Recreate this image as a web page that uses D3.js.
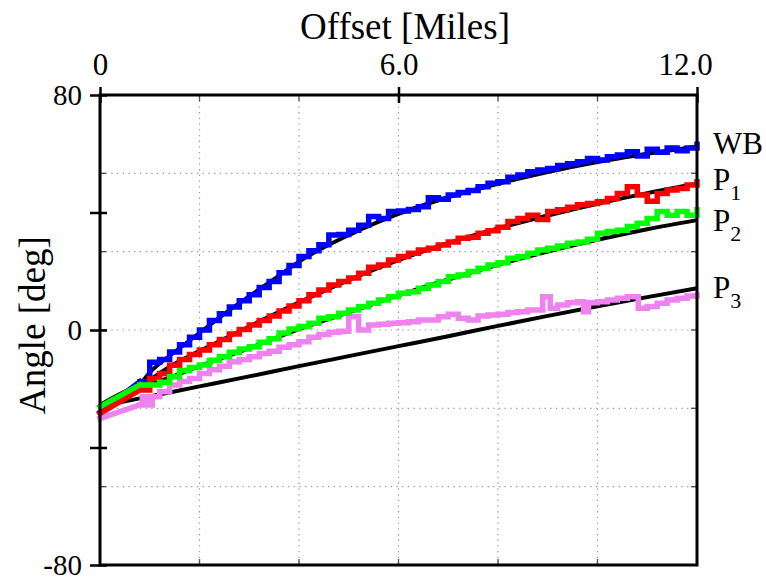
<!DOCTYPE html>
<html>
<head>
<meta charset="utf-8">
<script src="https://cdn.jsdelivr.net/npm/d3@7"></script>
<style>
  html, body { margin: 0; padding: 0; background: #fff; }
  svg { display: block; }
  text { font-family: "Liberation Serif", "Times New Roman", serif; fill: #000; }
</style>
</head>
<body>
<svg id="chart" width="766" height="581"></svg>
<script>
// Measured angle versus offset, with smooth fitted curves (black)
const seriesNames = ["WB", "P1", "P2", "P3"];
const seriesColors = ["#0000ff", "#ff0000", "#00ff00", "#ee82ee"];

const wbData = [[0,-28],[0.8,-17.6],[1.0,-11],[1.2,-10],[1.4,-7.5],[1.6,-5],[1.8,-2.5],[2.0,0],[2.2,3.2],[2.4,5.5],[2.6,7.8],[2.8,10],[3.0,12],[3.2,14.5],[3.4,16.5],[3.6,19.5],[3.8,22],[4.0,25],[4.2,27],[4.4,29],[4.6,32.3],[4.8,32.5],[5.0,34],[5.2,35.7],[5.4,38.6],[5.6,38],[5.8,40.3],[6.0,40.5],[6.2,41],[6.4,42],[6.6,45],[6.8,44.5],[7.0,46],[7.2,46.8],[7.4,47.5],[7.6,48.8],[7.8,50],[8.0,50.5],[8.2,52],[8.4,52.8],[8.6,53.9],[8.8,54.5],[9.0,55],[9.2,56],[9.4,56.6],[9.6,57.3],[9.8,58.4],[10.0,57.9],[10.2,59],[10.4,59.6],[10.6,60.7],[10.8,59.2],[11.0,61.5],[11.2,60.5],[11.4,62],[11.6,61],[11.8,62],[12.0,63.2]];

const p1Data = [[0,-28.4],[0.8,-20.4],[1.0,-16.5],[1.2,-14.8],[1.4,-12],[1.6,-10],[1.8,-8.3],[2.0,-6.8],[2.2,-5],[2.4,-3.2],[2.6,-1.4],[2.8,0.2],[3.0,1.7],[3.2,3.2],[3.4,4.8],[3.6,6.5],[3.8,8.2],[4.0,10],[4.2,12],[4.4,13.6],[4.6,15.3],[4.8,16.5],[5.0,17.7],[5.2,19.3],[5.4,21.4],[5.6,22.1],[5.8,23.8],[6.0,25],[6.2,26.1],[6.4,27.2],[6.6,27.8],[6.8,28.9],[7.0,30],[7.2,31.2],[7.4,31.6],[7.6,32.9],[7.8,33.8],[8.0,35],[8.2,36.9],[8.4,38],[8.6,39.1],[8.8,37.6],[9.0,40.3],[9.2,40.9],[9.4,41.8],[9.6,42.6],[9.8,43.1],[10.0,43.7],[10.2,44.8],[10.4,46.5],[10.6,48.8],[10.8,46],[11.0,43.8],[11.2,46.5],[11.4,47.7],[11.6,48.2],[11.8,49.4],[12.0,50.5]];

const p2Data = [[0,-26.1],[0.8,-18.7],[1.0,-18.7],[1.2,-17.8],[1.4,-15.9],[1.6,-13.8],[1.8,-12.8],[2.0,-11.9],[2.2,-10.3],[2.4,-9],[2.6,-7.6],[2.8,-6.5],[3.0,-5.7],[3.2,-4.2],[3.4,-3],[3.6,-1],[3.8,0.3],[4.0,1.2],[4.2,2.3],[4.4,4],[4.6,4.5],[4.8,5.7],[5.0,6.8],[5.2,7.9],[5.4,9.1],[5.6,10.2],[5.8,11.3],[6.0,12.5],[6.2,13],[6.4,14.2],[6.6,15.3],[6.8,16.5],[7.0,18.1],[7.2,18.7],[7.4,19.9],[7.6,21],[7.8,22.1],[8.0,22.9],[8.2,24.4],[8.4,25],[8.6,26.1],[8.8,27.2],[9.0,27.8],[9.2,28.6],[9.4,29.5],[9.6,30],[9.8,30.9],[10.0,32.9],[10.2,33.5],[10.4,34],[10.6,35.2],[10.8,36.3],[11.0,38],[11.2,40.3],[11.4,39.1],[11.6,40.3],[11.8,39.1],[12.0,40.9]];

const p3Data = [[0,-30.1],[0.8,-25.5],[0.85,-22.7],[0.95,-25.5],[1.05,-22.7],[1.2,-21],[1.4,-18.7],[1.6,-17.5],[1.8,-16.5],[2.0,-14.8],[2.2,-13.5],[2.4,-12.3],[2.6,-10.8],[2.8,-10],[3.0,-9.1],[3.2,-8],[3.4,-7.2],[3.6,-5.9],[3.8,-5],[4.0,-4],[4.2,-2.5],[4.4,-1.5],[4.6,-0.8],[4.8,-0.4],[5.0,4.5],[5.2,0],[5.4,1.7],[5.6,2],[5.8,2.3],[6.0,2.5],[6.2,2.8],[6.4,3.4],[6.6,3.4],[6.8,4.5],[7.0,5.4],[7.2,4],[7.4,3.4],[7.6,4.8],[7.8,5.1],[8.0,5.4],[8.2,6],[8.4,6.2],[8.6,6.8],[8.9,11.3],[9.05,7.4],[9.2,8.5],[9.4,9.3],[9.6,9.6],[9.72,6.2],[9.82,9.3],[10.0,9.6],[10.2,10.2],[10.4,10.8],[10.6,11.3],[10.82,7.4],[11.0,8],[11.2,9.1],[11.4,10.2],[11.6,10.8],[11.8,11.6],[12.0,11.9]];

// Smooth fits
const wbFit = [[0,-25.5],[0.8,-18.5],[1,-14.5],[1.5,-7.5],[2,-1],[2.5,5.5],[3,11.5],[3.5,17.3],[4,23.3],[5,32.3],[6,39.5],[7,45.2],[8,49.8],[9,53.8],[10,57.2],[11,60],[12,62.5]];
const p1Fit = [[0,-25.8],[0.8,-19.3],[1,-17],[1.5,-11.5],[2,-7.2],[3,1.2],[4,9.4],[5,17],[6,23.8],[7,29.6],[8,34.6],[9,39],[10,43],[11,46.6],[12,49.8]];
const p2Fit = [[0,-25.5],[0.8,-19],[1,-18.3],[2,-12.3],[3,-6.2],[4,0.3],[5,6],[6,11.8],[7,17.2],[8,22.2],[9,26.7],[10,30.7],[11,34.3],[12,37.4]];
const p3Fit = [[0,-26],[1,-22.6],[2,-19.2],[3,-15.8],[4,-12.3],[5,-8.9],[6,-5.5],[7,-2.1],[8,1.4],[9,4.8],[10,8.1],[11,11.2],[12,14.2]];

const xTicks = [0, 6, 12];
const xGrid = [2, 4, 6, 8, 10];
const yTicks = [-80, -40, 0, 40, 80];
const yLabels = [-80, 0, 80];
const yGrid = [-160/3, -80/3, 0, 80/3, 160/3];
const labelAnchors = [63.5, 51.5, 37.5, 14.5];

const svg = d3.select("#chart");
const x = d3.scaleLinear().domain([0, 12]).range([100, 697]);
const y = d3.scaleLinear().domain([-80, 80]).range([565, 95]);

// dotted grid
const grid = svg.append("g").attr("stroke", "#9a9a9a").attr("stroke-width", 1.2)
  .attr("stroke-dasharray", "1.3,4.4");
grid.selectAll("line.gx").data(xGrid).join("line").attr("class", "gx")
  .attr("x1", d => x(d)).attr("x2", d => x(d)).attr("y1", y(80)).attr("y2", y(-80));
grid.selectAll("line.gy").data(yGrid).join("line").attr("class", "gy")
  .attr("y1", d => y(d)).attr("y2", d => y(d)).attr("x1", x(0)).attr("x2", x(12));

// minor inner ticks at the grid positions
const minor = svg.append("g").attr("stroke", "#555").attr("stroke-width", 1.4);
xGrid.forEach(d => {
  minor.append("line").attr("x1", x(d)).attr("x2", x(d)).attr("y1", y(-80)).attr("y2", y(-80) - 6);
  minor.append("line").attr("x1", x(d)).attr("x2", x(d)).attr("y1", y(80)).attr("y2", y(80) + 6);
});
yGrid.forEach(d => {
  minor.append("line").attr("y1", y(d)).attr("y2", y(d)).attr("x1", x(0)).attr("x2", x(0) + 6);
  minor.append("line").attr("y1", y(d)).attr("y2", y(d)).attr("x1", x(12)).attr("x2", x(12) - 6);
});

// fitted curves (under the measured data)
const fitLine = d3.line().x(d => x(d[0])).y(d => y(d[1])).curve(d3.curveMonotoneX);
svg.append("g").selectAll("path").data([p3Fit, p2Fit, p1Fit, wbFit]).join("path")
  .attr("d", fitLine).attr("fill", "none").attr("stroke", "#000").attr("stroke-width", 4);

// measured data: straight lead-in, then stepped samples
const leadLine = d3.line().x(d => x(d[0])).y(d => y(d[1]));
const stepLine = d3.line().x(d => x(d[0])).y(d => y(d[1])).curve(d3.curveStepAfter);
const measured = [
  { data: p3Data, color: seriesColors[3] },
  { data: wbData, color: seriesColors[0] },
  { data: p1Data, color: seriesColors[1] },
  { data: p2Data, color: seriesColors[2] }
];
svg.append("g").selectAll("path").data(measured).join("path")
  .attr("d", s => leadLine(s.data.slice(0, 2)) + stepLine(s.data.slice(1)))
  .attr("fill", "none").attr("stroke", s => s.color)
  .attr("stroke-width", 5.5).attr("stroke-linejoin", "miter").attr("stroke-linecap", "square");

// frame
svg.append("rect").attr("x", x(0)).attr("y", y(80)).attr("width", x(12) - x(0)).attr("height", y(-80) - y(80))
  .attr("fill", "none").attr("stroke", "#000").attr("stroke-width", 3);

// top axis
const fmtX = d => d === 0 ? "0" : d3.format(".1f")(d);
const topAxis = svg.append("g").attr("transform", `translate(0,${y(80)})`)
  .call(d3.axisTop(x).tickValues(xTicks).tickFormat(fmtX).tickSizeOuter(0).tickSizeInner(8).tickPadding(12));
topAxis.select(".domain").remove();
topAxis.selectAll(".tick line").attr("y1", 8).attr("stroke-width", 2.5);
topAxis.selectAll(".tick text").attr("font-size", 31).attr("font-family", "Liberation Serif")
  .attr("dx", d => d === 12 ? -12 : 0);

// left axis
const leftAxis = svg.append("g").attr("transform", `translate(${x(0)},0)`)
  .call(d3.axisLeft(y).tickValues(yTicks).tickFormat(d => yLabels.includes(d) ? String(d) : "")
    .tickSizeOuter(0).tickSizeInner(10).tickPadding(8));
leftAxis.select(".domain").remove();
leftAxis.selectAll(".tick line").attr("x2", -10).attr("x1", 7).attr("stroke-width", 2.5);
leftAxis.selectAll(".tick text").attr("font-size", 29).attr("font-family", "Liberation Serif").attr("dy", "0.34em");

// axis titles
svg.append("text").attr("x", 405).attr("y", 39).attr("text-anchor", "middle")
  .attr("font-size", 37).text("Offset [Miles]");
svg.append("text").attr("transform", "translate(45,325) rotate(-90)").attr("text-anchor", "middle")
  .attr("font-size", 37).text("Angle [deg]");

// series labels at the right edge
const lab = svg.append("g");
seriesNames.forEach((name, i) => {
  const t = lab.append("text").attr("x", 713).attr("y", y(labelAnchors[i]) + 11).attr("font-size", 31);
  if (name.startsWith("P")) {
    t.append("tspan").text("P");
    t.append("tspan").attr("font-size", 22).attr("dy", 10).text(name.slice(1));
  } else {
    t.text(name);
  }
});
</script>
</body>
</html>
